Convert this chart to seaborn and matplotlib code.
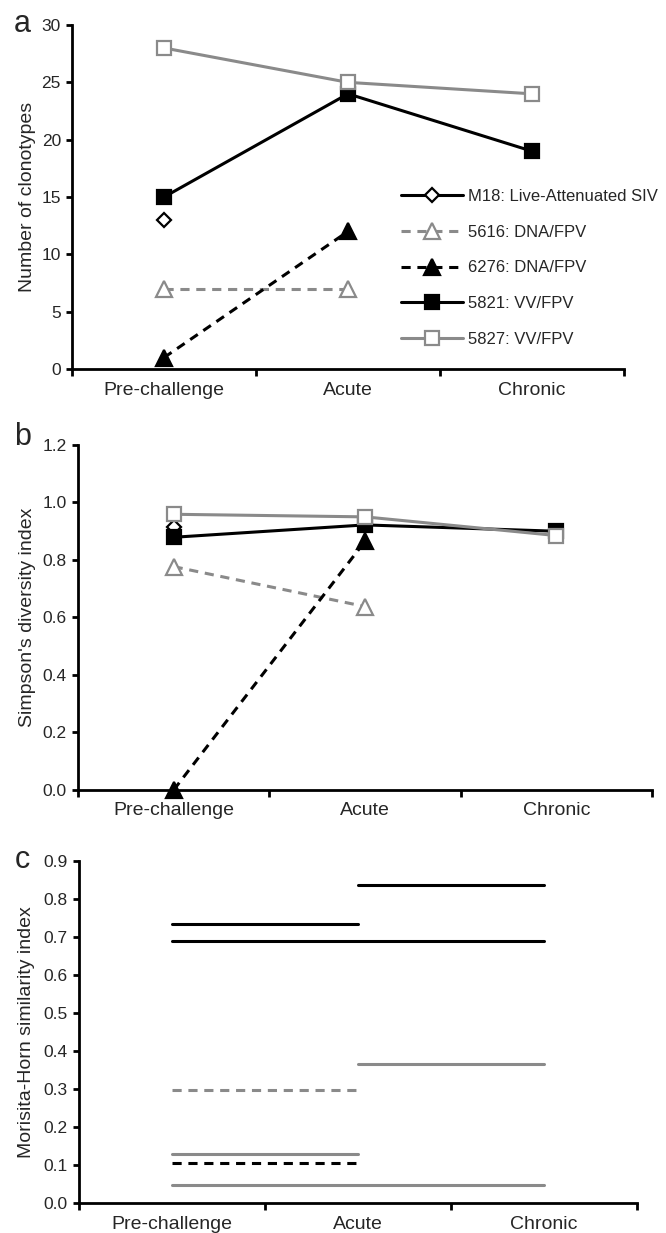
import matplotlib
matplotlib.use("Agg")
import matplotlib.pyplot as plt
import seaborn as sns
import pandas as pd

# ---------------- data ----------------
categories = ["Pre-challenge", "Acute", "Chronic"]
animals = ["M18: Live-Attenuated SIV", "5616: DNA/FPV", "6276: DNA/FPV",
           "5821: VV/FPV", "5827: VV/FPV"]

# panel a: number of clonotypes (None = not measured)
clonotypes_m18 = [13, None, None]
clonotypes_5616 = [7, 7, None]
clonotypes_6276 = [1, 12, None]
clonotypes_5821 = [15, 24, 19]
clonotypes_5827 = [28, 25, 24]

# panel b: Simpson's diversity index
simpson_m18 = [0.915, None, None]
simpson_5616 = [0.777, 0.638, None]
simpson_6276 = [0.0, 0.865, None]
simpson_5821 = [0.879, 0.922, 0.90]
simpson_5827 = [0.959, 0.950, 0.885]

# panel c: Morisita-Horn similarity between pairs of time points
mh_animal = ["5821: VV/FPV", "5821: VV/FPV", "5821: VV/FPV",
             "5827: VV/FPV", "5616: DNA/FPV", "5827: VV/FPV",
             "6276: DNA/FPV", "5827: VV/FPV"]
mh_from = ["Acute", "Pre-challenge", "Pre-challenge", "Acute",
           "Pre-challenge", "Pre-challenge", "Pre-challenge", "Pre-challenge"]
mh_to = ["Chronic", "Acute", "Chronic", "Chronic",
         "Acute", "Acute", "Acute", "Chronic"]
mh_value = [0.838, 0.734, 0.690, 0.366, 0.298, 0.129, 0.105, 0.047]

# ---------------- styles ----------------
GRAY = "#8a8a8a"
DASH = (0, (3.0, 2.2))
styles = {
    "M18: Live-Attenuated SIV": dict(color="black", ls="-", marker="D", ms=7.5, mfc="white", mec="black", lw=2.2),
    "5616: DNA/FPV": dict(color=GRAY, ls=DASH, marker="^", ms=12, mfc="white", mec=GRAY, lw=2.2),
    "6276: DNA/FPV": dict(color="black", ls=DASH, marker="^", ms=12, mfc="black", mec="black", lw=2.2),
    "5821: VV/FPV": dict(color="black", ls="-", marker="s", ms=10.5, mfc="black", mec="black", lw=2.2),
    "5827: VV/FPV": dict(color=GRAY, ls="-", marker="s", ms=10.5, mfc="white", mec=GRAY, lw=2.2),
}

sns.set_theme(style="white")
plt.rcParams["font.family"] = ["Liberation Sans", "DejaVu Sans"]

fig = plt.figure(figsize=(6.66, 12.33), dpi=100)
ax_a = fig.add_axes([0.1081, 0.7007, 0.8288, 0.2790])
ax_b = fig.add_axes([0.1171, 0.3593, 0.8619, 0.2798])
ax_c = fig.add_axes([0.1186, 0.0243, 0.8378, 0.2774])


def series_df(vals):
    rows = [(i, v) for i, v in enumerate(vals) if v is not None]
    return pd.DataFrame(rows, columns=["x", "y"])


def draw_series(ax, name, vals):
    st = styles[name]
    d = series_df(vals)
    sns.lineplot(data=d, x="x", y="y", ax=ax, legend=False, sort=False,
                 color=st["color"], linestyle=st["ls"], linewidth=st["lw"],
                 marker=st["marker"], markersize=st["ms"],
                 markerfacecolor=st["mfc"], markeredgecolor=st["mec"],
                 markeredgewidth=1.6, clip_on=False, label=name)


def style_axes(ax, ylim, yticks, fmt, ylabel, label_x):
    ax.set_xlim(-0.5, 2.5)
    ax.set_ylim(*ylim)
    sns.despine(ax=ax)
    for sp in ("left", "bottom"):
        ax.spines[sp].set_linewidth(2.0)
        ax.spines[sp].set_color("black")
    ax.set_xticks([-0.5, 0.5, 1.5, 2.5])
    ax.set_xticklabels([])
    ax.set_xticks([0, 1, 2], minor=True)
    ax.set_xticklabels(categories, minor=True, fontsize=14)
    ax.tick_params(axis="x", which="major", length=5, width=2, direction="out", bottom=True, color="black")
    ax.tick_params(axis="x", which="minor", length=0, pad=9, bottom=True)
    ax.set_yticks(yticks)
    ax.set_yticklabels([fmt.format(t) for t in yticks], fontsize=12.5)
    ax.tick_params(axis="y", length=4, width=2, direction="out", left=True, pad=4, color="black")
    ax.set_xlabel("")
    ax.set_ylabel(ylabel, fontsize=14)
    ax.yaxis.set_label_coords(label_x, 0.5)


# panel a
a_vals = [clonotypes_m18, clonotypes_5616, clonotypes_6276, clonotypes_5821, clonotypes_5827]
for name, vals in zip(animals, a_vals):
    draw_series(ax_a, name, vals)
style_axes(ax_a, (0, 30), list(range(0, 31, 5)), "{:d}", "Number of clonotypes", -0.066)
handles = ax_a.get_lines()[:len(animals)]
ax_a.legend(handles=handles, labels=animals, loc="upper left",
            bbox_to_anchor=(0.596, 0.523), frameon=False, fontsize=12,
            handlelength=3.7, handletextpad=0.3, labelspacing=1.24,
            borderpad=0, borderaxespad=0)

# panel b
b_vals = [simpson_m18, simpson_5616, simpson_6276, simpson_5821, simpson_5827]
for name, vals in zip(animals, b_vals):
    draw_series(ax_b, name, vals)
style_axes(ax_b, (0, 1.2), [0.0, 0.2, 0.4, 0.6, 0.8, 1.0, 1.2], "{:.1f}",
           "Simpson's diversity index", -0.074)

# panel c
for name, f, t, v in zip(mh_animal, mh_from, mh_to, mh_value):
    st = styles[name]
    d = pd.DataFrame({"x": [categories.index(f), categories.index(t)], "y": [v, v]})
    sns.lineplot(data=d, x="x", y="y", ax=ax_c, legend=False, sort=False,
                 color=st["color"], linestyle=st["ls"], linewidth=2.2)
style_axes(ax_c, (0, 0.9), [round(0.1 * i, 1) for i in range(10)], "{:.1f}",
           "Morisita-Horn similarity index", -0.078)

# panel letters
fig.text(14 / 666, 1 - 32 / 1233, "a", fontsize=22, ha="left", va="baseline")
fig.text(14 / 666, 1 - 445 / 1233, "b", fontsize=22, ha="left", va="baseline")
fig.text(15 / 666, 1 - 868 / 1233, "c", fontsize=22, ha="left", va="baseline")

fig.savefig("out.png", dpi=100)
